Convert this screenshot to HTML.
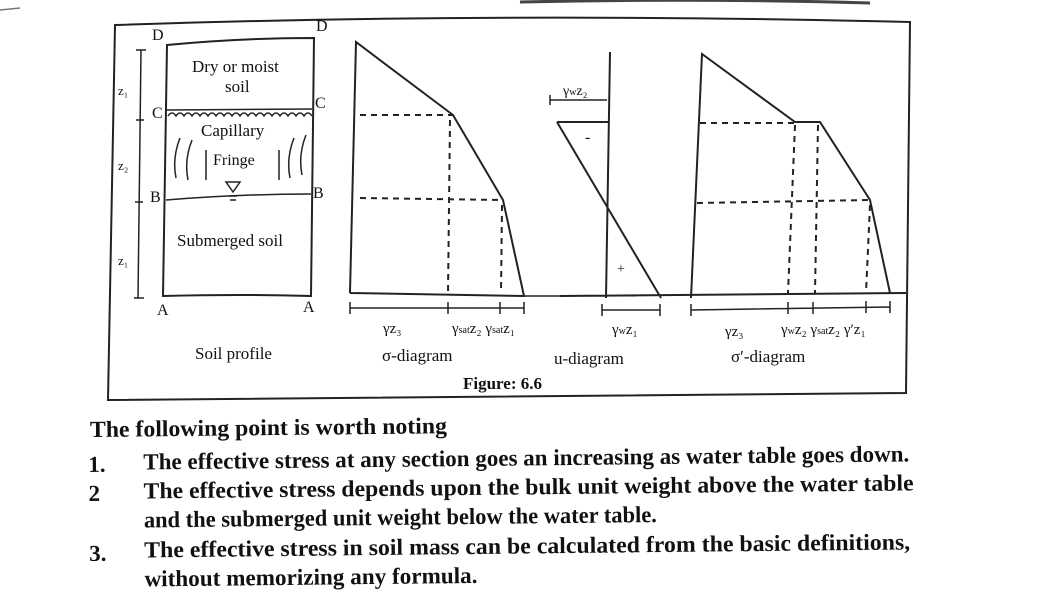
<!DOCTYPE html>
<html><head><meta charset="utf-8"><style>
html,body{margin:0;padding:0;background:#fff;}
svg{display:block;}
text{font-family:"Liberation Serif",serif;fill:#111;}
</style></head><body>
<svg width="1052" height="604" viewBox="0 0 1052 604" xmlns="http://www.w3.org/2000/svg">
<rect width="1052" height="604" fill="#fff"/>
<g stroke="#222" stroke-width="1.5" fill="none">
<path d="M520 2 Q700 -2 870 3" stroke-width="3" stroke="#444"/>
<path d="M0 10 L20 8" stroke="#777"/>
<!-- frame -->
<path d="M115 25 Q500 12 910 22 L906 393 Q500 395 108 400 Z" stroke-width="2"/>
<!-- soil profile -->
<path d="M167 45 Q240 38 314 38 L311 296 Q240 294 163 296 Z" stroke-width="2"/>
<path d="M167 110 L312 109"/>
<path d="M166 200 Q240 194 311 194"/>
<path d="M168 116 q4 -6 8 0 q4 -6 8 0 q4 -6 8 0 q4 -6 8 0 q4 -6 8 0 q4 -6 8 0 q4 -6 8 0 q4 -6 8 0 q4 -6 8 0 q4 -6 8 0 q4 -6 8 0 q4 -6 8 0 q4 -6 8 0 q4 -6 8 0 q4 -6 8 0 q4 -6 8 0 q4 -6 8 0 q4 -6 8 0"/>
<path d="M141 50 L138 298 M136 50 L146 50 M134 298 L144 298 M136 120 L144 120 M135 202 L143 202"/>
<path d="M176 178 q-4 -20 4 -40 M188 180 q-4 -20 4 -40 M206 180 l0 -30 M279 180 l0 -30 M290 178 q-4 -20 4 -40 M302 175 q-4 -20 4 -40"/>
<path d="M226 182 L240 182 L233 192 Z"/>
<path d="M229 196 L237 196 M230 200 L236 200"/>
<!-- sigma diagram -->
<path d="M350 293 L356 42 L453 115 L503 200 L524 296 L350 293" stroke-width="2"/>
<path d="M360 115 L453 115 M360 198 L503 200 M450 120 L448 293 M502 205 L501 293" stroke-dasharray="6,5" stroke-width="2"/>
<path d="M524 296 L560 296"/>
<path d="M350 308 L524 308 M350 302 L350 314 M448 302 L448 314 M500 302 L500 314 M524 302 L524 314"/>
<!-- u diagram -->
<path d="M610 52 L606 298 M557 122 L608 122 M557 122 L661 298 M560 296 L906 293" stroke-width="2"/>
<path d="M550 100 L607 100 M550 95 L550 105"/>
<path d="M602 310 L660 310 M602 304 L602 316 M660 304 L660 316"/>
<!-- sigma' diagram -->
<path d="M691 298 L702 54 L795 122 L820 122 L870 200 L890 293" stroke-width="2"/>
<path d="M700 123 L795 123 M697 203 L870 200 M795 125 L788 293 M818 125 L815 293 M870 205 L866 293" stroke-dasharray="6,5" stroke-width="2"/>
<path d="M691 310 L890 307 M691 304 L691 316 M788 302 L788 314 M813 302 L813 314 M866 301 L866 313 M890 301 L890 313"/>
</g>
<g font-size="16">
<text x="152" y="40">D</text><text x="316" y="31">D</text>
<text x="152" y="118">C</text><text x="315" y="108">C</text>
<text x="150" y="202">B</text><text x="313" y="198">B</text>
<text x="157" y="315">A</text><text x="303" y="312">A</text>
<text x="118" y="95" font-size="13">z₁</text><text x="118" y="170" font-size="13">z₂</text><text x="118" y="265" font-size="13">z₁</text>
<text x="192" y="72" font-size="17">Dry or moist</text><text x="225" y="92" font-size="17">soil</text>
<text x="201" y="136" font-size="17">Capillary</text><text x="213" y="165" font-size="16">Fringe</text>
<text x="177" y="246" font-size="17">Submerged soil</text>
<text x="195" y="359" font-size="17">Soil profile</text>
<text x="383" y="333" font-size="15">γz₃</text><text x="452" y="333" font-size="15">γ<tspan font-size="10">sat</tspan>z₂ γ<tspan font-size="10">sat</tspan>z₁</text>
<text x="382" y="361" font-size="17">σ-diagram</text>
<text x="463" y="389" font-size="17" font-weight="bold">Figure: 6.6</text>
<text x="563" y="95" font-size="14">γ<tspan font-size="10">w</tspan>z₂</text>
<text x="585" y="142">-</text><text x="617" y="273" font-size="14">+</text>
<text x="612" y="334" font-size="15">γ<tspan font-size="10">w</tspan>z₁</text>
<text x="554" y="364" font-size="17">u-diagram</text>
<text x="725" y="336" font-size="15">γz₃</text>
<text x="781" y="334" font-size="15">γ<tspan font-size="10">w</tspan>z₂ γ<tspan font-size="10">sat</tspan>z₂ γ′z₁</text>
<text x="731" y="362" font-size="17">σ′-diagram</text>
</g>
<g font-size="23" style="font-weight:bold" transform="rotate(-0.6 90 437)">
<text x="90" y="437" textLength="357" lengthAdjust="spacingAndGlyphs">The following point is worth noting</text>
<text x="88" y="472">1.</text>
<text x="143" y="470" textLength="766" lengthAdjust="spacingAndGlyphs">The effective stress at any section goes an increasing as water table goes down.</text>
<text x="88" y="501">2</text>
<text x="143" y="499" textLength="770" lengthAdjust="spacingAndGlyphs">The effective stress depends upon the bulk unit weight above the water table</text>
<text x="143" y="528" textLength="513" lengthAdjust="spacingAndGlyphs">and the submerged unit weight below the water table.</text>
<text x="88" y="561">3.</text>
<text x="143" y="558" textLength="766" lengthAdjust="spacingAndGlyphs">The effective stress in soil mass can be calculated from the basic definitions,</text>
<text x="143" y="587" textLength="333" lengthAdjust="spacingAndGlyphs">without memorizing any formula.</text>
</g>
</svg>
</body></html>
